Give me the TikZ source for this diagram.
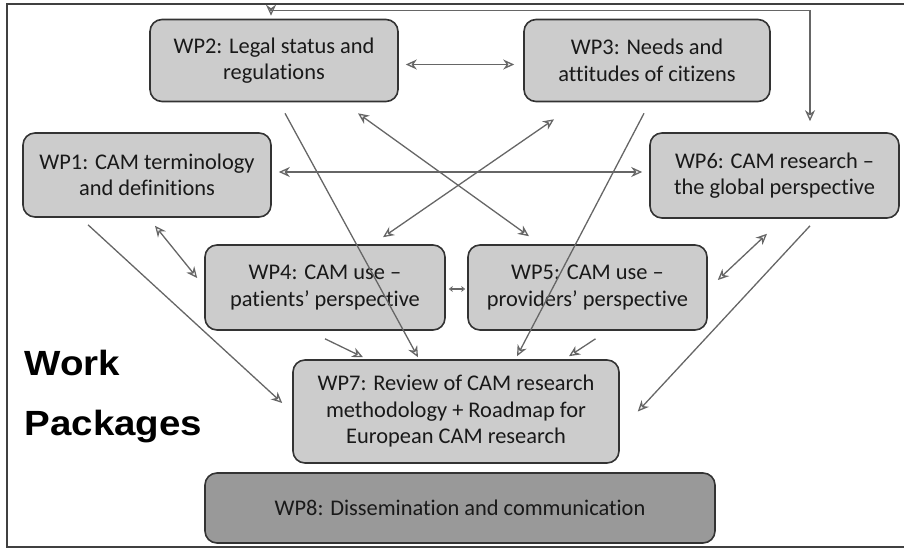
\documentclass[tikz,border=0pt]{standalone}
\usepackage{fontspec}
\setmainfont{Carlito}[Ligatures=NoCommon]
\newfontfamily\headfont{Liberation Sans}
\usepackage{xcolor}
\usepackage{tikz}
\usetikzlibrary{arrows.meta}

\begin{document}
\begin{tikzpicture}[x=1pt,y=-1pt,line width=1.2pt,
    wp/.style={draw=black!80,line width=1.6pt,fill=black!20,rounded corners=12pt,
      inner sep=0pt,align=center,text=black!90,
      font=\fontsize{22.4}{26.5}\selectfont},
    link/.style={draw=black!60,line width=1.3pt,
      arrows={-Stealth[open,length=11pt,width=10pt]}},
    twoway/.style={link,arrows={Stealth[open,length=11pt,width=10pt]-Stealth[open,length=11pt,width=10pt]}}]
    \useasboundingbox (0,0) rectangle (904,549);
    \draw[black!75,line width=1.8pt] (904,4) -- (7,4) -- (7,547) -- (904,547);
    % work packages
    \node[wp,minimum width=248pt,minimum height=82pt] (wp2) at (274,60.5) {WP2: Legal status and\\regulations};
    \node[wp,minimum width=246pt,minimum height=82pt] (wp3) at (647,60.5) {WP3: Needs and\\attitudes of citizens};
    \node[wp,minimum width=248pt,minimum height=84pt] (wp1) at (147,175) {WP1: CAM terminology\\and definitions};
    \node[wp,minimum width=249pt,minimum height=85pt] (wp6) at (774.5,175.5) {WP6: CAM research --\\the global perspective};
    \node[wp,minimum width=240pt,minimum height=85pt] (wp4) at (325,287.5) {WP4: CAM use --\\patients' perspective};
    \node[wp,minimum width=239pt,minimum height=85pt] (wp5) at (587.5,287.5) {WP5: CAM use --\\providers' perspective};
    \node[wp,minimum width=326pt,minimum height=103pt] (wp7) at (456,411.5) {WP7: Review of CAM research\\methodology + Roadmap for\\European CAM research};
    \node[wp,fill=black!40,minimum width=510pt,minimum height=70pt] (wp8) at (460,508) {WP8: Dissemination and communication};
    \node[anchor=base west,inner sep=0pt,xscale=1.1,font=\headfont\bfseries\fontsize{35}{40}\selectfont] (work) at (24,375) {Work};
    \node[anchor=base west,inner sep=0pt,xscale=1.1,font=\headfont\bfseries\fontsize{35}{40}\selectfont] (pkgs) at (24,435) {Packages};
    % links between them
    \draw[twoway] ([shift={(7,4)}]wp2.east) -- ([shift={(-9,4)}]wp3.west);
    \draw[twoway] ([shift={(7,-3)}]wp1.east) -- ([shift={(-7,-3.5)}]wp6.west);
    \draw[twoway] ([shift={(-3,-3)}]wp2.north) -- ++(0,-5) -| ([shift={(35.5,-11)}]wp6.north);
    \draw[twoway] ([shift={(8,8)}]wp1.south) -- ([shift={(-7,-9.5)}]wp4.west);
    \draw[twoway] ([shift={(-7.5,15)}]wp6.south) -- ([shift={(10,-7.5)}]wp5.east);
    \draw[twoway] ([shift={(84,11)}]wp2.south) -- ([shift={(-58.5,-8)}]wp5.north);
    \draw[twoway] ([shift={(58,-7)}]wp4.north) -- ([shift={(-93,17)}]wp3.south);
    \draw[link,arrows={Stealth[open,length=4pt,width=6pt]-Stealth[open,length=4pt,width=6pt]}] ([shift={(3,1.5)}]wp4.east) -- ([shift={(-2,1.5)}]wp5.west);
    \draw[link] ([shift={(11,11)}]wp2.south) -- ([shift={(-38,-2)}]wp7.north);
    \draw[link] ([shift={(-3,11)}]wp3.south) -- ([shift={(61,-3)}]wp7.north);
    \draw[link] ([shift={(0,8)}]wp4.south) -- ([shift={(-93,-2)}]wp7.north);
    \draw[link] ([shift={(8,8)}]wp5.south) -- ([shift={(113,-3)}]wp7.north);
    \draw[link] ([shift={(-59,7)}]wp1.south) -- ([shift={(-10,-8.5)}]wp7.west);
    \draw[link] ([shift={(35.5,7)}]wp6.south) -- ([shift={(18,0)}]wp7.east);
  \end{tikzpicture}
\end{document}
